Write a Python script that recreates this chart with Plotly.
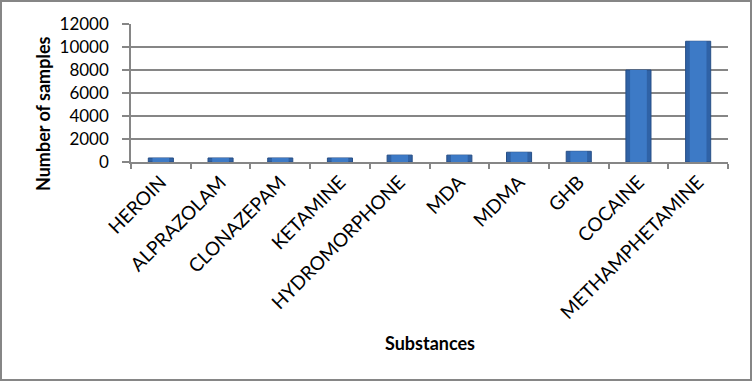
import plotly.graph_objects as go

categories = ["HEROIN", "ALPRAZOLAM", "CLONAZEPAM", "KETAMINE", "HYDROMORPHONE",
              "MDA", "MDMA", "GHB", "COCAINE", "METHAMPHETAMINE"]
samples = [350, 350, 350, 350, 600, 600, 850, 930, 8000, 10500]
y_ticks = [0, 2000, 4000, 6000, 8000, 10000, 12000]

W, H = 752, 381
L, R, T, B = 131, 24, 24, 219
pw = W - L - R
ph = H - T - B

FONT = "Lato, 'Liberation Sans', sans-serif"
GRAY = "#868686"

fig = go.Figure()
fig.add_trace(go.Bar(
    x=categories, y=samples, width=0.42,
    marker=dict(color="#2f62a6", line=dict(color="#284f86", width=1)),
    hoverinfo="x+y",
))
fig.add_trace(go.Bar(
    x=categories, y=samples, width=0.28,
    marker=dict(color="#3d7ac6", line=dict(width=0)),
    hoverinfo="skip",
))

fig.update_layout(
    width=W, height=H,
    margin=dict(l=L, r=R, t=T, b=B, pad=0),
    paper_bgcolor="white", plot_bgcolor="white",
    barmode="overlay",
    showlegend=False,
    font=dict(family=FONT, size=18, color="black"),
    xaxis=dict(
        type="category",
        tickangle=-45,
        tickson="boundaries",
        ticks="outside", ticklen=5, tickwidth=1.5, tickcolor=GRAY,
        showline=True, linecolor=GRAY, linewidth=1.5,
        showgrid=False,
        tickfont=dict(family=FONT, size=19),
    ),
    yaxis=dict(
        range=[0, 12000],
        tickvals=y_ticks,
        ticktext=[str(v) for v in y_ticks],
        ticks="outside", ticklen=7, tickwidth=1.5, tickcolor=GRAY,
        ticklabelstandoff=10,
        showline=True, linecolor=GRAY, linewidth=1.5,
        showgrid=True, gridcolor=GRAY, gridwidth=1.5,
        zeroline=False,
        tickfont=dict(family=FONT, size=17),
    ),
    annotations=[
        dict(text="<b>Number of samples</b>", xref="paper", yref="paper",
             x=(43 - L) / pw, y=(H - B - 114) / ph, textangle=-90,
             showarrow=False, xanchor="center", yanchor="middle",
             font=dict(family=FONT, size=18)),
        dict(text="<b>Substances</b>", xref="paper", yref="paper",
             x=(430 - L) / pw, y=(H - B - 343) / ph,
             showarrow=False, xanchor="center", yanchor="middle",
             font=dict(family=FONT, size=18)),
    ],
    shapes=[
        dict(type="rect", xref="paper", yref="paper",
             x0=(1 - L) / pw, x1=(W - 1 - L) / pw,
             y0=(H - B - (H - 1)) / ph, y1=(H - B - 1) / ph,
             line=dict(color=GRAY, width=2), fillcolor="rgba(0,0,0,0)", layer="below"),
    ],
)

fig.write_html("out.html",
               config={"displayModeBar": False},
               post_script="document.body.style.margin='0';document.body.style.overflow='hidden';")
